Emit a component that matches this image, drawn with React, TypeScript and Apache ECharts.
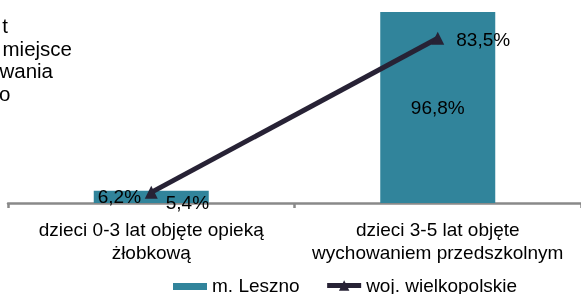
import React, { useEffect, useRef } from "react";
import * as echarts from "echarts";

const categories = [
  "dzieci 0-3 lat objęte opieką\nżłobkową",
  "dzieci 3-5 lat objęte\nwychowaniem przedszkolnym",
];
const lesznoValues = [6.2, 96.8];
const wielkopolskieValues = [5.4, 83.5];
const seriesNames = ["m. Leszno", "woj. wielkopolskie"];
const titleFragments = ["t", "miejsce", "wania", "o"];

const FONT = "'Liberation Sans', Arial, sans-serif";
const BAR_COLOR = "#31849B";
const LINE_COLOR = "#272235";

const fmt = (v: number) => v.toFixed(1).replace(".", ",") + "%";

export default function App() {
  const ref = useRef<HTMLDivElement>(null);
  useEffect(() => {
    if (!ref.current) return;
    const chart = echarts.init(ref.current, undefined, { renderer: "svg" });

    const fragRight = [8, 72, 53, 10.5];
    const fragCenterY = [25.4, 48.4, 70.4, 93.4];

    const barData = lesznoValues.map((v, i) => ({
      value: v,
      label:
        i === 0
          ? { show: true, position: "insideLeft", distance: 4 }
          : { show: true, position: "inside" },
    }));
    const lineData = wielkopolskieValues.map((v, i) => ({
      value: v,
      label:
        i === 0
          ? { show: true, position: "right", distance: 8, offset: [0, 10] }
          : { show: true, position: "right", distance: 12, offset: [0, 1] },
    }));

    chart.setOption({
      animation: false,
      textStyle: { fontFamily: FONT },
      grid: { left: 8, width: 574, top: 5.7, bottom: 91, containLabel: false },
      xAxis: {
        type: "category",
        data: categories,
        axisLine: { lineStyle: { color: "#898989", width: 2.5 } },
        axisTick: { show: true, length: 5, lineStyle: { color: "#898989", width: 2.5 } },
        axisLabel: {
          color: "#000",
          fontSize: 19,
          lineHeight: 23,
          margin: 15,
          interval: 0,
          fontFamily: FONT,
        },
      },
      yAxis: {
        type: "value",
        min: 0,
        max: 100,
        show: false,
        splitLine: { show: false },
      },
      legend: {
        left: 173,
        top: 276,
        padding: 0,
        itemGap: 25,
        itemWidth: 34,
        itemHeight: 13,
        symbolKeepAspect: false,
        textStyle: { color: "#000", fontSize: 19, fontFamily: FONT },
        data: [
          {
            name: seriesNames[0],
            icon: "path://M0,0 L0,0 M0,4 L34,4 L34,11 L0,11 Z M34,13 L34,13",
          },
          { name: seriesNames[1], lineStyle: { width: 5 } },
        ],
      },
      series: [
        {
          name: seriesNames[0],
          type: "bar",
          data: barData,
          barWidth: 115,
          itemStyle: { color: BAR_COLOR },
          label: {
            show: true,
            color: "#000",
            fontSize: 19,
            fontFamily: FONT,
            formatter: (p: any) => fmt(p.value),
          },
        },
        {
          name: seriesNames[1],
          type: "line",
          data: lineData,
          symbol: "triangle",
          symbolSize: 13,
          itemStyle: { color: LINE_COLOR },
          lineStyle: { color: LINE_COLOR, width: 5 },
          z: 5,
          label: {
            show: true,
            color: "#000",
            fontSize: 19,
            fontFamily: FONT,
            formatter: (p: any) => fmt(p.value),
          },
        },
      ],
      graphic: titleFragments.map((t, i) => ({
        type: "text",
        x: fragRight[i],
        y: fragCenterY[i],
        style: {
          text: t,
          align: "right",
          verticalAlign: "middle",
          fill: "#000",
          font: `20.5px ${FONT}`,
        },
      })),
    });
    return () => chart.dispose();
  }, []);
  return (
    <div
      ref={ref}
      style={{ position: "fixed", left: 0, top: 0, width: 581, height: 294 }}
    />
  );
}
